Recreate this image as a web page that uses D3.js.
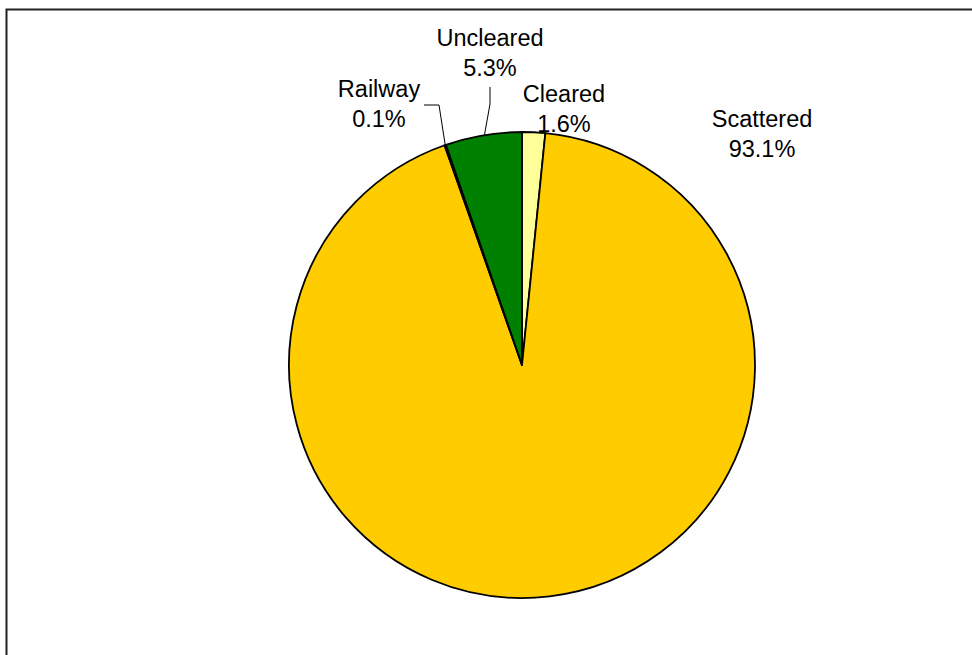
<!DOCTYPE html>
<html><head><meta charset="utf-8">
<script src="https://cdn.jsdelivr.net/npm/d3@7"></script>
<style>body{margin:0;background:#fff}svg{display:block}</style>
</head><body>
<svg id="c" width="972" height="655"></svg>
<script>
const categories = ["Cleared", "Scattered", "Railway", "Uncleared"];
const values = [1.6, 93.1, 0.1, 5.3];
const labels = ["1.6%", "93.1%", "0.1%", "5.3%"];
const colors = ["#FFFF99", "#FFCC00", "#FFCC00", "#008000"];

const W = 972, H = 655;
const cx = 522, cy = 365, R = 233;
const svg = d3.select("#c");

svg.append("rect").attr("x", 6.5).attr("y", 9.5).attr("width", 1000).attr("height", 700)
  .attr("fill", "#fff").attr("stroke", "#222").attr("stroke-width", 2);

const pie = d3.pie().sort(null).value(d => d)(values);
const arc = d3.arc().innerRadius(0).outerRadius(R);
const g = svg.append("g").attr("transform", `translate(${cx},${cy})`);
g.selectAll("path").data(pie).join("path")
  .attr("d", arc).attr("fill", (d, i) => colors[i])
  .attr("stroke", "#000").attr("stroke-width", 1.8).attr("stroke-linejoin", "round");

// label layout (relative to pie centre): text centre x, first baseline y
const labelPos = [[42, -263], [240, -238], [-143, -268], [-32, -319]];
const lineH = 29.5;
const lab = svg.append("g").attr("font-family", "'Liberation Sans', Arial, sans-serif")
  .attr("font-size", 23.5).attr("fill", "#000").attr("text-anchor", "middle");
categories.forEach((c, i) => {
  const [x, y] = labelPos[i];
  const t = lab.append("text").attr("x", cx + x).attr("y", cy + y);
  t.append("tspan").attr("x", cx + x).text(c);
  t.append("tspan").attr("x", cx + x).attr("dy", lineH).text(labels[i]);
});

// leader lines for Railway and Uncleared
function edgePoint(i, frac) {
  const d = pie[i];
  const a = d.startAngle + (d.endAngle - d.startAngle) * frac;
  return [cx + R * Math.sin(a), cy - R * Math.cos(a)];
}
const rw = edgePoint(2, 0.5);
const uc = edgePoint(3, 0.5);
const lines = [
  [[424, 105], [439, 105], rw],
  [[490, 87], [490, 104], [uc[0] + 1, uc[1]]]
];
svg.selectAll("polyline.leader").data(lines).join("polyline")
  .attr("class", "leader")
  .attr("points", d => d.map(p => p.join(",")).join(" "))
  .attr("fill", "none").attr("stroke", "#000").attr("stroke-width", 1);
</script>
</body></html>
